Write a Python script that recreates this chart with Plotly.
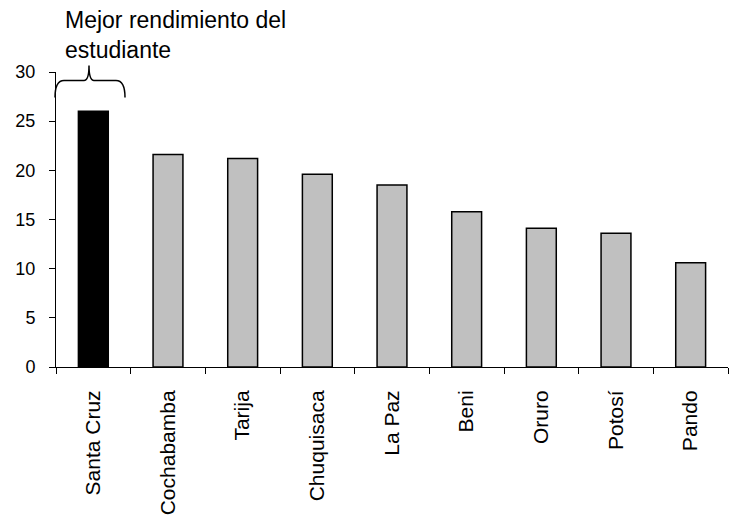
import plotly.graph_objects as go

categories = ["Santa Cruz", "Cochabamba", "Tarija", "Chuquisaca", "La Paz",
              "Beni", "Oruro", "Potosí", "Pando"]
values = [26.0, 21.6, 21.2, 19.6, 18.5, 15.8, 14.1, 13.6, 10.6]
highlight = "Santa Cruz"
y_ticks = [0, 5, 10, 15, 20, 25, 30]
annotation_text = "Mejor rendimiento del<br>estudiante"

W, H = 732, 518
L, R, T, B = 56, 4, 71.5, 151
pw, ph = W - L - R, H - T - B

def px(x):
    return (x - L) / pw

def py(y):
    return (H - B - y) / ph

colors = ["#000000" if c == highlight else "#C0C0C0" for c in categories]

fig = go.Figure(go.Bar(
    x=categories, y=values,
    marker=dict(color=colors, line=dict(color="#000000", width=1.5)),
    width=0.4,
))

# curly brace over the highlighted bar (paper coordinates)
pts = [
    ("M", 55, 97), ("Q", 55, 80), ("", 64, 80), ("L", 84, 80),
    ("Q", 89, 80), ("", 89, 65), ("Q", 89, 80), ("", 94, 80),
    ("L", 116, 80), ("Q", 125, 80), ("", 125, 97),
]
path = " ".join(f"{cmd} {px(x):.5f},{py(y):.5f}" if cmd else f"{px(x):.5f},{py(y):.5f}"
                for cmd, x, y in pts)
fig.add_shape(type="path", path=path, xref="paper", yref="paper",
              line=dict(color="#000000", width=1.5))

fig.add_annotation(text=annotation_text, xref="paper", yref="paper",
                   x=px(63), y=py(64), xanchor="left", yanchor="bottom",
                   align="left", showarrow=False,
                   font=dict(size=23, color="#000000"))

fig.update_layout(
    width=W, height=H,
    margin=dict(l=L, r=R, t=T, b=B, pad=0),
    paper_bgcolor="white", plot_bgcolor="white",
    font=dict(family="Liberation Sans, Arial, sans-serif", color="#000000"),
    showlegend=False,
    bargap=0.6,
)
fig.update_xaxes(
    showline=True, linecolor="#000000", linewidth=1,
    ticks="outside", tickson="boundaries", ticklen=6, tickcolor="#000000",
    tickangle=-90, tickfont=dict(size=21), showgrid=False,
    ticklabelstandoff=14,
)
fig.update_yaxes(
    range=[0, 30], tickvals=y_ticks, showline=True, linecolor="#000000",
    linewidth=1, ticks="outside", ticklen=6, tickcolor="#000000",
    tickfont=dict(size=18), showgrid=False, zeroline=False,
    ticklabelstandoff=10,
)

fig.write_html("out.html")
